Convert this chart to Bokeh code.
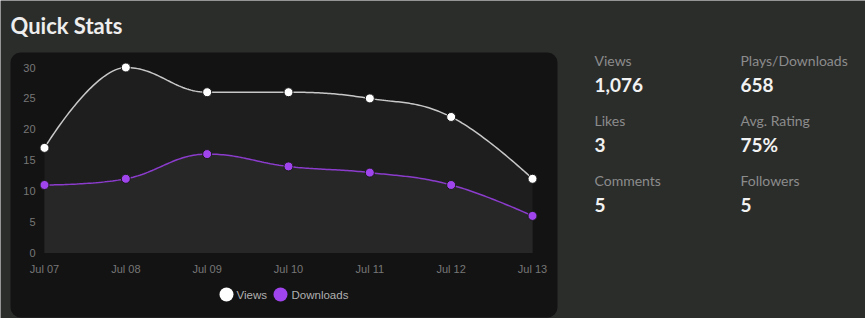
import numpy as np
from bokeh.plotting import figure
from bokeh.models import BoxAnnotation, Range1d
from bokeh.core.properties import value
from bokeh.embed import file_html
from bokeh.resources import INLINE

# ---------------- data ----------------
title_text = "Quick Stats"
dates = ["Jul 07", "Jul 08", "Jul 09", "Jul 10", "Jul 11", "Jul 12", "Jul 13"]
views = [17, 30, 26, 26, 25, 22, 12]
downloads = [11, 12, 16, 14, 13, 11, 6]
y_ticks = [0, 5, 10, 15, 20, 25, 30]
series_names = ["Views", "Downloads"]
stat_labels = ["Views", "Plays/Downloads", "Likes", "Avg. Rating", "Comments", "Followers"]
stat_values = ["1,076", "658", "3", "75%", "5", "5"]

# ---------------- layout (pixel geometry) ----------------
W, H = 865, 318
X_FIRST, X_LAST = 44.0, 532.0
Y_ZERO, Y_TOP = 252.5, 67.0
Y_MAX = 30.0
n = len(dates)


def dx(px):
    return (px - X_FIRST) * (n - 1) / (X_LAST - X_FIRST)


def dy(py):
    return (Y_ZERO - py) * Y_MAX / (Y_ZERO - Y_TOP)


BG = "#2b2d2b"
PANEL = "#131313"

p = figure(width=W, height=H, output_backend="svg", toolbar_location=None,
           x_axis_type=None, y_axis_type=None,
           x_range=Range1d(dx(0), dx(W)), y_range=Range1d(dy(H), dy(0)),
           min_border=0, min_border_left=0, min_border_right=0,
           min_border_top=0, min_border_bottom=0)
p.background_fill_color = BG
p.border_fill_color = BG
p.outline_line_color = None
p.xgrid.visible = False
p.ygrid.visible = False

# panel
p.add_layout(BoxAnnotation(left=dx(10), right=dx(557), top=dy(52), bottom=dy(317),
                           fill_color=PANEL, fill_alpha=1, line_color=None,
                           border_radius=10, level="underlay"))


# ---------------- spline (Highcharts-style) ----------------
def spline(xv, yv, steps=40):
    xv = np.asarray(xv, float)
    yv = np.asarray(yv, float)
    sm = 1.5
    den = sm + 1
    m = len(xv)
    lc = [None] * m
    rc = [None] * m
    for i in range(m):
        if i == 0 or i == m - 1:
            lc[i] = (xv[i], yv[i])
            rc[i] = (xv[i], yv[i])
            continue
        px, py = xv[i], yv[i]
        lx, ly = xv[i - 1], yv[i - 1]
        nx, ny = xv[i + 1], yv[i + 1]
        lcx = (sm * px + lx) / den
        lcy = (sm * py + ly) / den
        rcx = (sm * px + nx) / den
        rcy = (sm * py + ny) / den
        if rcx != lcx:
            corr = ((rcy - lcy) * (rcx - px)) / (rcx - lcx) + py - rcy
            lcy += corr
            rcy += corr
        if lcy > ly and lcy > py:
            lcy = max(ly, py)
            rcy = 2 * py - lcy
        elif lcy < ly and lcy < py:
            lcy = min(ly, py)
            rcy = 2 * py - lcy
        if rcy > ny and rcy > py:
            rcy = max(ny, py)
            lcy = 2 * py - rcy
        elif rcy < ny and rcy < py:
            rcy = min(ny, py)
            lcy = 2 * py - rcy
        lc[i] = (lcx, lcy)
        rc[i] = (rcx, rcy)
    outx, outy = [xv[0]], [yv[0]]
    t = np.linspace(0, 1, steps)[1:]
    for i in range(1, m):
        p0 = (xv[i - 1], yv[i - 1])
        p1 = rc[i - 1]
        p2 = lc[i]
        p3 = (xv[i], yv[i])
        bx = (1 - t) ** 3 * p0[0] + 3 * (1 - t) ** 2 * t * p1[0] + 3 * (1 - t) * t ** 2 * p2[0] + t ** 3 * p3[0]
        by = (1 - t) ** 3 * p0[1] + 3 * (1 - t) ** 2 * t * p1[1] + 3 * (1 - t) * t ** 2 * p2[1] + t ** 3 * p3[1]
        outx.extend(bx)
        outy.extend(by)
    return np.array(outx), np.array(outy)


idx = list(range(n))
series = [
    (views, "#1e1e1e", "#c8c8c8", "#ffffff"),
    (downloads, "#272727", "#8b3ccc", "#a045ee"),
]
for vals, area_col, line_col, mark_col in series:
    sx, sy = spline(idx, vals)
    px_ = np.concatenate([sx, [sx[-1], sx[0]]])
    py_ = np.concatenate([sy, [0, 0]])
    p.patch(px_, py_, fill_color=area_col, line_color=None)

for vals, area_col, line_col, mark_col in series:
    sx, sy = spline(idx, vals)
    p.line(sx, sy, line_color=line_col, line_width=1.5)

for vals, area_col, line_col, mark_col in series:
    p.scatter(idx, vals, size=9, fill_color=mark_col, line_color="#1a1a1a", line_width=1)

# ---------------- axis labels ----------------
AX_FONT = value("Liberation Sans")
p.text(x=[dx(35)] * len(y_ticks), y=y_ticks, text=[str(v) for v in y_ticks],
       text_align="right", text_baseline="middle", text_font=AX_FONT,
       text_font_size="11px", text_color="#777777")
p.text(x=idx, y=[dy(268.5)] * n, text=dates, text_align="center",
       text_baseline="middle", text_font=AX_FONT, text_font_size="11px",
       text_color="#777777")

# ---------------- legend ----------------
p.scatter([dx(226), dx(280)], [dy(294)] * 2, size=14,
          fill_color=["#ffffff", "#a045ee"], line_color=None)
p.text(x=[dx(236), dx(291)], y=[dy(294)] * 2, text=series_names,
       text_align="left", text_baseline="middle", text_font=AX_FONT,
       text_font_size="11.5px", text_color="#b0b0b0")

# ---------------- title ----------------
SHIFT = 7
p.text(x=[dx(10)], y=[dy(31.5 - SHIFT)], text=[title_text], text_align="left",
       text_baseline="alphabetic", text_font=value("Lato"), text_font_style="bold",
       text_font_size="22px", text_color="#eeeeee")

# ---------------- stats ----------------
col_x = [594, 740]
lab_base = [66, 126, 186]
val_base = [91.5, 151, 211]
for k, (lab, val) in enumerate(zip(stat_labels, stat_values)):
    c = k % 2
    r = k // 2
    p.text(x=[dx(col_x[c])], y=[dy(lab_base[r] - 6)], text=[lab], text_align="left",
           text_baseline="alphabetic", text_font=value("Lato"),
           text_font_size="14px", text_color="#8c8c8c")
    p.text(x=[dx(col_x[c])], y=[dy(val_base[r] - 7)], text=[val], text_align="left",
           text_baseline="alphabetic", text_font=value("Lato"), text_font_style="bold",
           text_font_size="19px", text_color="#f2f2f2")

open("out.html", "w").write(file_html(p, INLINE))
